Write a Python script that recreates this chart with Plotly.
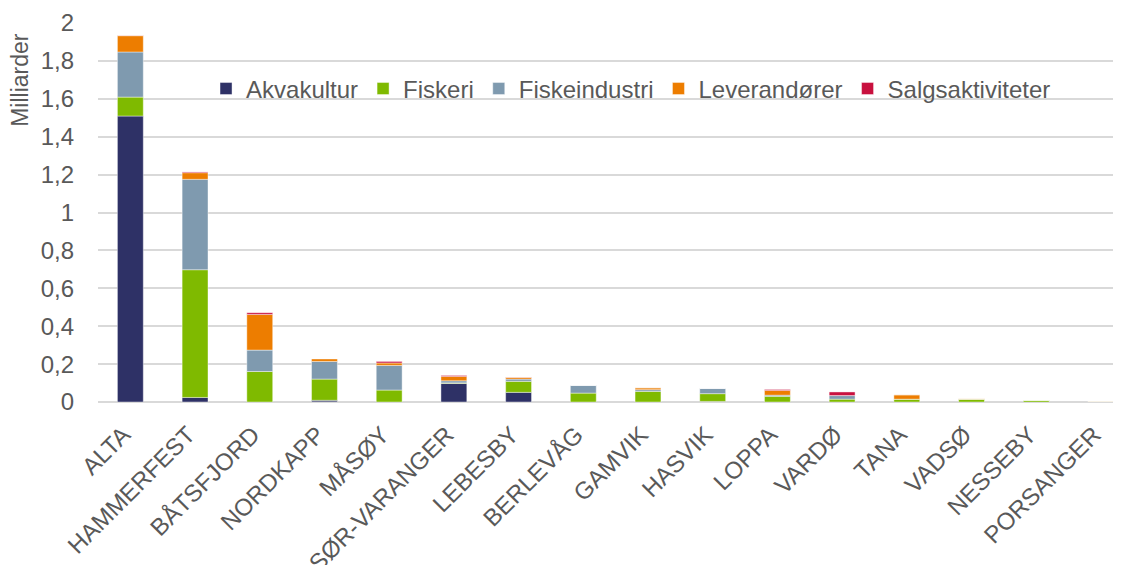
import plotly.graph_objects as go

categories = ["ALTA", "HAMMERFEST", "BÅTSFJORD", "NORDKAPP", "MÅSØY", "SØR-VARANGER",
              "LEBESBY", "BERLEVÅG", "GAMVIK", "HASVIK", "LOPPA", "VARDØ", "TANA",
              "VADSØ", "NESSEBY", "PORSANGER"]
akvakultur = [1.509, 0.024, 0.0, 0.009, 0.0, 0.098, 0.051, 0.0, 0.0, 0.003, 0.0, 0.0, 0.0, 0.0, 0.0, 0.0]
fiskeri = [0.100, 0.674, 0.161, 0.112, 0.063, 0.003, 0.058, 0.047, 0.056, 0.041, 0.030, 0.015, 0.015, 0.015, 0.010, 0.003]
fiskeindustri = [0.238, 0.477, 0.113, 0.093, 0.130, 0.011, 0.012, 0.041, 0.009, 0.028, 0.006, 0.019, 0.0, 0.0, 0.0, 0.001]
leverandorer = [0.086, 0.035, 0.188, 0.013, 0.013, 0.023, 0.009, 0.0, 0.010, 0.0, 0.025, 0.0, 0.023, 0.002, 0.0, 0.001]
salgsaktiviteter = [0.001, 0.004, 0.009, -0.003, 0.008, 0.005, 0.001, 0.0, 0.0, 0.0, 0.005, 0.019, 0.0, 0.0, 0.0, 0.0]

series = [
    ("Akvakultur", akvakultur, "#2E3166"),
    ("Fiskeri", fiskeri, "#7FBA00"),
    ("Fiskeindustri", fiskeindustri, "#7F9AAF"),
    ("Leverandører", leverandorer, "#ED7D00"),
    ("Salgsaktiviteter", salgsaktiviteter, "#C8103E"),
]

FONT = "Liberation Sans, Arial, sans-serif"
GREY = "#595959"

fig = go.Figure()
for name, vals, col in series:
    fig.add_trace(go.Bar(
        x=categories, y=vals, name=name,
        marker=dict(color=col, line=dict(color="rgba(255,255,255,0.7)", width=0.6)),
        width=0.40,
    ))

fig.update_layout(
    width=1113, height=557,
    barmode="relative",
    separators=", ",
    paper_bgcolor="white", plot_bgcolor="white",
    margin=dict(l=90, r=0, t=15, b=163),
    font=dict(family=FONT, color=GREY, size=23),
    showlegend=True,
    legend=dict(orientation="h", x=0.1056, xanchor="left", y=0.826, yanchor="middle",
                bgcolor="rgba(0,0,0,0)", font=dict(size=24, color=GREY),
                traceorder="normal", itemwidth=30),
    xaxis=dict(range=[-0.5, 15.31], tickangle=-45, showgrid=False, ticks="",
               showline=False, automargin=False, ticklabelstandoff=13,
               ticklabelshift=-7,
               tickfont=dict(size=24, color=GREY)),
    yaxis=dict(range=[0, 2.0], dtick=0.2, tick0=0, showgrid=True, gridcolor="#D9D9D9",
               gridwidth=1.5, zeroline=True, zerolinecolor="#D9D9D9", zerolinewidth=1.5,
               ticks="", ticklabelstandoff=23, automargin=False,
               tickfont=dict(size=24, color=GREY)),
    annotations=[dict(text="Milliarder", xref="paper", yref="paper",
                      x=-0.0763, y=0.85, xanchor="center", yanchor="middle",
                      textangle=-90, showarrow=False,
                      font=dict(size=23, color=GREY))],
)

fig.write_html("out.html")
